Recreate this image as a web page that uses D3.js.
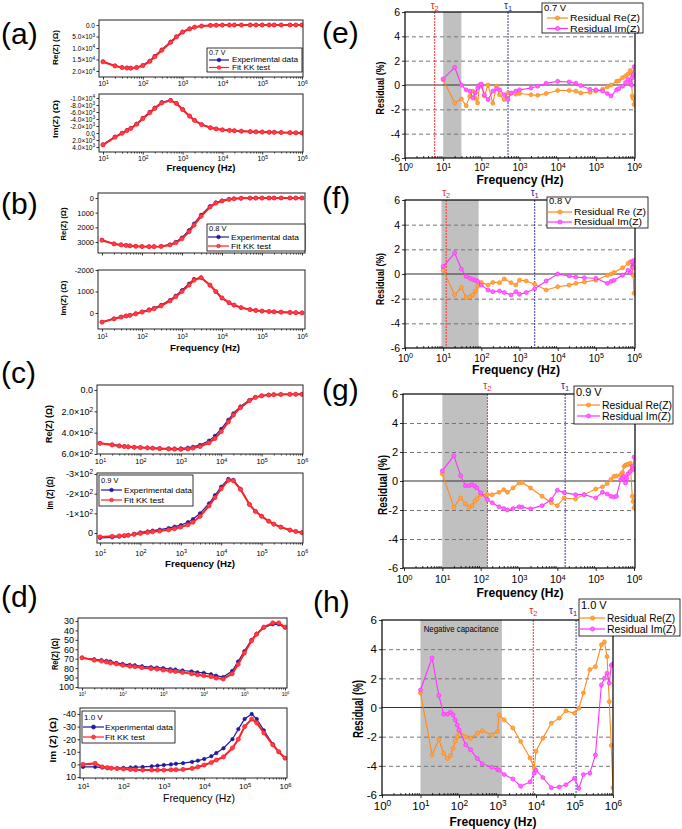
<!DOCTYPE html>
<html><head><meta charset="utf-8">
<script src="https://cdn.jsdelivr.net/npm/d3@7"></script>
<style>body{margin:0;background:#fff}svg{display:block;font-family:"Liberation Sans",Arial,sans-serif}</style>
</head><body>
<script>
// ---------- DATA ----------
const freqLeft = [10,20,30,40,50,70,100,150,200,300,500,700,1e3,1.5e3,2e3,3e3,5e3,7e3,1e4,1.5e4,2e4,3e4,5e4,7e4,1e5,1.5e5,2e5,3e5,5e5,7e5,1e6];
const aReExp = [15900,17700,18400,18600,18700,18400,17500,15600,13500,10700,7300,5000,2950,1600,900,420,160,80,45,28,18,14,10,7,5,4,4,3,2,2,2];
const aReFit = [16000,17800,18500,18700,18800,18500,17700,15800,13800,11000,7600,5200,3100,1700,950,450,170,90,50,30,20,15,10,8,5,5,4,3,3,2,2];
const aImExp = [3300,1100,0,-800,-1400,-2600,-4300,-6000,-7200,-8800,-9400,-8500,-6800,-4900,-3650,-2450,-1520,-1160,-900,-750,-650,-520,-400,-330,-280,-230,-200,-150,-100,-60,-20];
const aImFit = [3400,1200,100,-700,-1300,-2500,-4100,-5800,-7000,-8600,-9300,-8400,-6700,-4800,-3600,-2400,-1500,-1150,-900,-750,-650,-520,-400,-330,-280,-230,-200,-150,-100,-60,-20];
const bReExp = [2860,3120,3190,3230,3260,3290,3300,3310,3310,3290,3180,3000,2700,2200,1750,1150,560,310,180,80,45,18,7,3,2,1,0,0,0,0,0];
const bReFit = [2880,3130,3200,3230,3260,3290,3310,3320,3320,3300,3200,3050,2780,2300,1850,1250,620,350,200,90,50,20,8,4,2,1,0,0,0,0,0];
const bImExp = [420,265,185,135,100,25,-60,-160,-230,-370,-600,-800,-1060,-1360,-1580,-1650,-1290,-990,-690,-475,-365,-248,-158,-118,-88,-68,-54,-40,-25,-15,-5];
const bImFit = [425,270,190,140,110,40,-40,-130,-200,-330,-560,-760,-1000,-1300,-1530,-1640,-1300,-1000,-700,-480,-370,-250,-160,-120,-90,-70,-55,-40,-25,-15,-5];
const cReExp = [498,512,522,528,532,536,538,541,543,546,548,549,548,542,533,515,475,430,365,280,220,155,95,67,53,46,43,41,40,40,40];
const cReFit = [500,515,525,530,533,537,540,543,546,550,553,555,556,552,545,530,495,455,390,300,235,165,100,70,55,47,44,42,41,40,40];
const cImExp = [25,22,18,15,10,4,-3,-8,-12,-17,-25,-32,-40,-55,-70,-100,-150,-192,-235,-275,-270,-224,-146,-111,-86,-60,-45,-30,-15,-8,-2];
const cImFit = [20,17,15,13,12,7,2,-3,-6,-10,-16,-22,-30,-42,-55,-85,-138,-180,-225,-268,-266,-222,-145,-110,-85,-60,-45,-30,-15,-8,-2];
const dReExp = [69,70.6,71.5,72.3,73,74.5,75.5,76.5,77,78,79,79.5,80,81,81.5,82.5,83.5,84.5,85,86.5,88,89.5,83,73,62,50,43.5,37,33.5,33.5,37];
const dReFit = [69,71.5,72.5,73.5,74.5,75.5,77,78,78.5,79.5,80.5,81,82,83,83.5,84.5,86,87,88,89,90.5,91.5,86,76,64,51,44,36.5,32,32,36.5];
const dImExp = [2,2,2.5,3,3,3,2.7,2.5,2.2,2,1.5,1,0.5,0,-0.5,-1,-2,-3,-4.3,-6.5,-9,-12.8,-20,-28,-36,-40,-36,-27,-16,-10,-5];
const dImFit = [0,-0.8,2,2.5,3,3.3,3.7,4,4.2,4.5,4.5,4.5,4.5,4.3,4.2,4,3.2,2,0.5,-1.5,-3.5,-6,-13,-20,-30,-36,-33,-25,-15.5,-10,-5];

const freqE = [10,20,30,40,50,60,70,80,90,100,120,150,200,250,300,400,500,600,800,1e3,2e3,3e3,5e3,1e4,2e4,3e4,4e4,7e4,1e5,1.5e5,2e5,2.5e5,3.5e5,4e5,5e5,6e5,7e5,8e5,8.5e5,9e5,9.5e5,1e6];
const eRe = [0.44,-1.47,-1.15,-1.7,-0.93,-0.5,-1.1,-1.47,-0.05,-0.1,-0.9,0,-1.5,-0.1,-0.8,-1.2,-0.65,-0.7,-0.75,-0.7,-0.8,-0.85,-0.7,-0.45,-0.45,-0.5,-0.65,-0.6,-0.5,-0.35,-0.15,0,0.3,0.35,0.6,0.75,0.9,1.2,1.0,-0.9,-1.1,-1.6];
const eIm = [0.5,1.45,0,-0.4,-0.5,-1.05,-0.65,-0.25,0,0.08,-0.8,-1.2,-0.5,-0.3,-0.4,-0.8,-1.2,-0.65,-0.5,-0.4,-0.25,-0.1,0.15,0.3,0.25,0.15,-0.05,-0.35,-0.4,-0.5,-0.7,-0.9,-0.4,-0.3,-0.1,0.2,0.45,0.2,0,0.6,0.85,1.5];
const freqF = [10,20,30,40,50,60,70,80,100,150,200,300,400,600,800,1000,1500,2500,5000,1e4,2e4,3e4,5e4,1e5,2e5,2.5e5,3e5,5e5,7e5,8e5,9e5,9.5e5,1e6];
const fRe = [0.32,-1.7,-1.1,-1.9,-1.85,-1.7,-1.4,-1.0,-0.68,-0.9,-0.68,-0.7,-0.4,-0.7,-0.9,-0.5,-0.57,-0.84,-1.3,-1.03,-0.9,-0.76,-0.65,-0.5,-0.1,0,0.13,0.5,0.86,1.0,0.6,-0.1,-1.57];
const fIm = [0.6,1.7,0.4,-0.2,-0.35,-0.45,-0.5,-0.6,-0.9,-1.3,-1.43,-1.38,-1.5,-1.7,-1.43,-1.65,-1.5,-1.2,-0.57,0,-0.16,-0.25,-0.3,-0.35,-0.76,-0.6,-0.5,-0.1,0.3,0.1,1.0,0.5,1.1];
const freqG = [10,20,30,40,50,60,70,80,100,150,200,300,400,500,700,1000,1200,2000,4000,7000,1e4,1.5e4,3e4,5e4,1e5,1.5e5,2e5,2.5e5,3e5,3.5e5,4.5e5,5e5,5.5e5,6e5,6.5e5,7e5,8e5,9e5,9.5e5,1e6];
const gRe = [0.5,-1.8,-1.17,-1.58,-1.8,-1.7,-1.4,-1.24,-0.94,-0.94,-0.94,-0.78,-0.6,-0.78,-0.48,-0.14,-0.1,-0.48,-1.05,-1.5,-1.7,-1.17,-1.24,-0.94,-0.55,-0.4,-0.18,0.1,0.32,0.35,0.43,0.6,1.0,1.1,1.12,1.15,1.23,-1.05,-1.4,-1.85];
const gIm = [0.7,1.74,0.37,-0.32,-0.32,-0.25,-0.35,-0.48,-0.82,-1.28,-1.5,-1.78,-1.9,-2.0,-1.9,-1.78,-1.8,-1.92,-1.7,-1.28,-0.64,-0.8,-0.94,-0.94,-1.17,-0.78,-0.9,-1.05,-1.1,-1.05,0.1,0.2,0.32,-0.14,0.2,0.5,0.66,1.0,0.8,1.65];
const freqH = [10,20,30,40,50,60,70,80,90,100,150,200,300,400,700,1000,1100,1500,2500,4000,7000,9000,1e4,1.5e4,2.5e4,4e4,6e4,1e5,1.3e5,1.7e5,2.5e5,3.5e5,5e5,6e5,7e5,8e5,9e5,1e6];
const hRe = [1.0,-3.25,-2.2,-3.15,-3.5,-3.3,-2.8,-2.3,-2.0,-1.6,-2.0,-2.1,-1.76,-1.6,-1.87,-1.65,-0.5,-0.85,-1.4,-2.33,-3.47,-4.16,-3.0,-2.1,-1.07,-0.73,-0.23,-0.4,-0.05,1.0,2.6,2.8,4.3,4.5,3.5,0.4,-2.6,-5.5];
const hIm = [1.2,3.4,0.82,-0.46,-0.46,-0.32,-0.5,-0.85,-1.2,-1.53,-2.56,-2.9,-3.5,-3.85,-4.1,-4.25,-4.3,-4.6,-4.9,-5.4,-5.1,-4.5,-4.3,-4.8,-5.5,-5.45,-5.3,-4.85,-5.55,-4.6,-4.5,-3.25,1.55,2.0,2.35,1.67,2.9,3.0];

// bands (Hz), tau markers (Hz)
const bandE=[10,30], bandF=[9,85], bandG=[10,150], bandH=[10,1300];
const tauE=[500,6], tauF=[2500,12], tauG=[16000,150], tauH=[110000,8500]; // [tau1, tau2]

// tick values & labels
const decLeft=[10,100,1e3,1e4,1e5,1e6];
const decLeftLabels=["10^1","10^2","10^3","10^4","10^5","10^6"];
const decRight=[1,10,100,1e3,1e4,1e5,1e6];
const decRightLabels=["10^0","10^1","10^2","10^3","10^4","10^5","10^6"];
const aReTicks=[0,5000,10000,15000,20000];
const aReLabels=["0.0","5.0×10^3","1.0×10^4","1.5×10^4","2.0×10^4"];
const aImTicks=[-10000,-8000,-6000,-4000,-2000,0,2000,4000];
const aImLabels=["-1.0×10^4","-8.0×10^3","-6.0×10^3","-4.0×10^3","-2.0×10^3","0.0","2.0×10^3","4.0×10^3"];
const bReTicks=[0,1000,2000,3000], bReLabels=["0","1000","2000","3000"];
const bImTicks=[-2000,-1000,0], bImLabels=["-2000","1000","0"];
const cReTicks=[0,200,400,600], cReLabels=["0.0","2.0×10^2","4.0×10^2","6.0×10^2"];
const cImTicks=[-300,-200,-100,0], cImLabels=["-3×10^2","-2×10^2","-1×10^2","0"];
const dReTicks=[30,40,50,60,70,80,90,100], dReLabels=["30","40","50","60","70","80","90","100"];
const dImTicks=[-40,-30,-20,-10,0,10], dImLabels=["-40","-30","-20","-10","0","10"];
const resTicks=[-6,-4,-2,0,2,4,6], resLabels=["-6","-4","-2","0","2","4","6"];

// ---------- DRAWING ----------
const svg=d3.select("body").append("svg").attr("width",682).attr("height",829);
svg.append("rect").attr("width",682).attr("height",829).attr("fill","#fff");
const BLUE="#1c1c9c", RED="#ff2020", ORANGE="#ff8a1c", MAGENTA="#ff30ff";

function rich(sel,str){
  sel.text(null);
  const p=str.split("^");
  sel.append("tspan").text(p[0]);
  if(p.length>1) sel.append("tspan").attr("dy","-0.45em").attr("font-size","0.72em").text(p[1]);
}
function minorTicks(lo,hi){const m=[];for(let d=lo;d<hi;d*=10)for(let k=2;k<=9;k++)m.push(d*k);return m;}
let clipN=0;
function addClip(b){const id="cl"+(clipN++);svg.append("clipPath").attr("id",id).append("rect").attr("x",b[0]).attr("y",b[2]).attr("width",b[1]-b[0]).attr("height",b[3]-b[2]);return `url(#${id})`;}
function cleanAxis(a,fs){a.attr("font-size",fs).attr("font-family",null);a.select(".domain").remove();a.selectAll("line").attr("stroke","#000").attr("stroke-width",0.8);a.selectAll("text").attr("fill","#000");}
function drawSeries(g,x,y,freq,vals,st,clip){
  const pts=d3.zip(freq,vals);
  const sg=g.append("g").attr("clip-path",clip);
  sg.append("path").datum(pts).attr("fill","none").attr("stroke",st.color).attr("stroke-width",st.lw)
    .attr("d",d3.line().x(d=>x(d[0])).y(d=>y(d[1])));
  sg.selectAll(null).data(pts).join("circle").attr("cx",d=>x(d[0])).attr("cy",d=>y(d[1]))
    .attr("r",st.r).attr("fill",st.fill).attr("stroke",st.color).attr("stroke-width",0.7);
}
function rotLabel(x,y,txt,fs,len,bold){
  svg.append("text").attr("transform",`translate(${x},${y}) rotate(-90)`).attr("text-anchor","middle").attr("dy","0.35em")
    .attr("font-size",fs).attr("font-weight",bold?"bold":"normal").attr("textLength",len).attr("lengthAdjust","spacingAndGlyphs").text(txt);
}
function hLabel(x,y,txt,fs,len,bold){
  svg.append("text").attr("x",x).attr("y",y).attr("text-anchor","middle").attr("font-size",fs)
    .attr("font-weight",bold?"bold":"normal").attr("textLength",len).attr("lengthAdjust","spacingAndGlyphs").text(txt);
}
function legend(o){
  const g=svg.append("g");
  g.append("rect").attr("x",o.box[0]).attr("y",o.box[2]).attr("width",o.box[1]-o.box[0]).attr("height",o.box[3]-o.box[2])
    .attr("fill","#fff").attr("stroke","#000").attr("stroke-width",0.8);
  g.append("text").attr("x",o.box[0]+2).attr("y",o.rows[0]).attr("dy","0.35em").attr("font-size",o.fs).text(o.title);
  o.items.forEach((it,i)=>{
    const yy=o.rows[i+1];
    g.append("line").attr("x1",o.line[0]).attr("x2",o.line[1]).attr("y1",yy).attr("y2",yy).attr("stroke",it.color).attr("stroke-width",1.2);
    g.append("circle").attr("cx",(o.line[0]+o.line[1])/2).attr("cy",yy).attr("r",o.r||2).attr("fill",it.fill).attr("stroke",it.color).attr("stroke-width",0.7);
    const t=g.append("text").attr("x",o.textX).attr("y",yy).attr("dy","0.35em").attr("font-size",o.fs).text(it.label);
    if(it.len) t.attr("textLength",it.len).attr("lengthAdjust","spacingAndGlyphs");
  });
}
function panelLetter(x,y,t){svg.append("text").attr("x",x).attr("y",y).attr("font-size",30).text(t);}

const expStyle={color:BLUE,fill:BLUE,lw:1.2,r:1.7};
const fitStyle={color:RED,fill:"#ff3c50",lw:2,r:2.1};

function leftSub(o){
  const g=svg.append("g");
  const [bx0,bx1,by0,by1]=o.box;
  const x=d3.scaleLog().domain([10,1e6]).range(o.xr);
  const y=d3.scaleLinear().domain(o.yd).range(o.yr);
  const clip=addClip(o.box);
  const xa=g.append("g").attr("transform",`translate(0,${by1})`)
    .call(d3.axisBottom(x).tickValues(decLeft).tickSize(2.5).tickPadding(o.xpad||2).tickFormat((d,i)=>decLeftLabels[i]));
  cleanAxis(xa,o.xfs||7);
  if(o.xfs) xa.selectAll(".tick text").each(function(d,i){rich(d3.select(this),decLeftLabels[i]);});
  else xa.selectAll(".tick text").remove();
  const xm=g.append("g").attr("transform",`translate(0,${by1})`)
    .call(d3.axisBottom(x).tickValues(minorTicks(10,1e6)).tickSize(1.5).tickFormat(""));
  cleanAxis(xm,7);
  const ya=g.append("g").attr("transform",`translate(${bx0},0)`)
    .call(d3.axisLeft(y).tickValues(o.yt).tickSize(2.5).tickPadding(1.5).tickFormat((d,i)=>o.yl[i]));
  cleanAxis(ya,o.yfs);
  ya.selectAll(".tick text").each(function(d,i){rich(d3.select(this),o.yl[i]);});
  drawSeries(g,x,y,freqLeft,o.exp,expStyle,clip);
  drawSeries(g,x,y,freqLeft,o.fit,fitStyle,clip);
  g.append("rect").attr("x",bx0).attr("y",by0).attr("width",bx1-bx0).attr("height",by1-by0).attr("fill","none").attr("stroke","#222").attr("stroke-width",1);
  rotLabel(o.yLab[0],o.yLab[1],o.yText,o.yLab[3],o.yLab[2],true);
}

// (a)
leftSub({box:[99,303,20,77],xr:[103,302],yd:[0,20000],yr:[25,71],yt:aReTicks,yl:aReLabels,yfs:6.5,xfs:7,xpad:1.5,exp:aReExp,fit:aReFit,yText:"Re(Z) (Ω)",yLab:[55,47.5,35,8]});
leftSub({box:[99,303,94,152],xr:[103,302],yd:[-10000,4000],yr:[98,147],yt:aImTicks,yl:aImLabels,yfs:6.5,xfs:7,xpad:2,exp:aImExp,fit:aImFit,yText:"Im(Z) (Ω)",yLab:[55,119,38,8]});
hLabel(201,171,"Frequency (Hz)",9.5,69,true);
legend({box:[207,302,48,72],title:"0.7 V",rows:[52.5,60,67.5],line:[209,229],textX:232,fs:7,r:1.8,
  items:[{label:"Experimental data",color:BLUE,fill:BLUE,len:66},{label:"Fit KK test",color:RED,fill:"#ff3c50",len:38}]});
panelLetter(1,44,"(a)");

// (b)
leftSub({box:[98,305,193,253],xr:[102,302],yd:[0,3000],yr:[198,242],yt:bReTicks,yl:bReLabels,yfs:7.5,xfs:0,exp:bReExp,fit:bReFit,yText:"Re(Z) (Ω)",yLab:[63,224,33,8]});
leftSub({box:[98,305,270,329],xr:[102,302],yd:[-2000,0],yr:[270,313],yt:bImTicks,yl:bImLabels,yfs:7.5,xfs:7,xpad:3,exp:bImExp,fit:bImFit,yText:"Im(Z) (Ω)",yLab:[63,298,35,8]});
hLabel(205,351,"Frequency (Hz)",9.5,70,true);
legend({box:[207,305,224,251],title:"0.8 V",rows:[228.5,237,246],line:[208,229],textX:231,fs:7.5,r:1.8,
  items:[{label:"Experimental data",color:BLUE,fill:BLUE,len:68},{label:"Fit KK test",color:RED,fill:"#ff3c50",len:40}]});
panelLetter(1,214,"(b)");

// (c)
leftSub({box:[97,303,385,454],xr:[100,302],yd:[0,600],yr:[390,454],yt:cReTicks,yl:cReLabels,yfs:9,xfs:7.5,xpad:2.5,exp:cReExp,fit:cReFit,yText:"Re(Z) (Ω)",yLab:[49,424,38,9]});
leftSub({box:[97,303,473,543],xr:[100,302],yd:[-300,0],yr:[474,533],yt:cImTicks,yl:cImLabels,yfs:9,xfs:7.5,xpad:5,exp:cImExp,fit:cImFit,yText:"Im (Z) (Ω)",yLab:[50,493,33,9]});
hLabel(200,567,"Frequency (Hz)",9.5,70,true);
legend({box:[99,193,475,506],title:"0.9 V",rows:[480,490,500],line:[101,122],textX:124,fs:7.5,r:1.8,
  items:[{label:"Experimental data",color:BLUE,fill:BLUE,len:68},{label:"Fit KK test",color:RED,fill:"#ff3c50",len:40}]});
panelLetter(1,383,"(c)");

// (d)
leftSub({box:[78,287,618,688],xr:[82,285],yd:[30,100],yr:[621,687],yt:dReTicks,yl:dReLabels,yfs:9,xfs:5,xpad:2,exp:dReExp,fit:dReFit,yText:"Re(Z) (Ω)",yLab:[55,654,32,9]});
leftSub({box:[80,287,708,778],xr:[83,285],yd:[-40,10],yr:[714,777],yt:dImTicks,yl:dImLabels,yfs:9,xfs:8,xpad:3,exp:dImExp,fit:dImFit,yText:"Im (Z) (Ω)",yLab:[53,740,45,9]});
hLabel(199,802,"Frequency (Hz)",10.5,72,false);
legend({box:[82,175,711,743],title:"1.0 V",rows:[717,727,737],line:[83,104],textX:105,fs:8,r:2,
  items:[{label:"Experimental data",color:BLUE,fill:BLUE,len:68},{label:"Fit KK test",color:RED,fill:"#ff3c50",len:40}]});
panelLetter(1,607,"(d)");

// residual panels
function resPanel(o){
  const g=svg.append("g");
  const [bx0,bx1,by0,by1]=o.box;
  const x=d3.scaleLog().domain([1,1e6]).range(o.xr);
  const y=d3.scaleLinear().domain([-6,6]).range([by1,by0]);
  const clip=addClip(o.box);
  g.append("rect").attr("x",x(o.band[0])).attr("y",by0).attr("width",x(o.band[1])-x(o.band[0])).attr("height",by1-by0).attr("fill","#c0c0c0");
  const grid=g.append("g").attr("transform",`translate(${bx0},0)`)
    .call(d3.axisLeft(y).tickValues([-4,-2,2,4]).tickSize(-(bx1-bx0)).tickFormat(""));
  grid.select(".domain").remove();
  grid.selectAll("line").attr("stroke","#777").attr("stroke-dasharray","4,3").attr("stroke-width",1);
  g.append("line").attr("x1",bx0).attr("x2",bx1).attr("y1",y(0)).attr("y2",y(0)).attr("stroke","#333").attr("stroke-width",1.1);
  // tau lines
  g.append("line").attr("x1",x(o.tau[1])).attr("x2",x(o.tau[1])).attr("y1",by0).attr("y2",by1).attr("stroke","#ff3030").attr("stroke-width",1).attr("stroke-dasharray","2,1");
  g.append("line").attr("x1",x(o.tau[0])).attr("x2",x(o.tau[0])).attr("y1",by0).attr("y2",by1).attr("stroke","#3a3aa8").attr("stroke-width",1).attr("stroke-dasharray","2,1");
  const tdx=o.tauDx||[0,0];
  [[o.tau[1],"2","#ee2a2a",tdx[1]],[o.tau[0],"1","#2a2a9a",tdx[0]]].forEach(([f,s,c,dx])=>{
    const t=g.append("text").attr("x",x(f)+dx).attr("y",o.tauY).attr("text-anchor","middle").attr("font-size",10).attr("fill",c);
    t.append("tspan").text("τ");
    t.append("tspan").attr("dy","0.3em").attr("font-size","0.75em").text(s);
  });
  if(o.note) g.append("text").attr("x",(x(o.band[0])+x(o.band[1]))/2).attr("y",by0+12).attr("text-anchor","middle").attr("font-size",8.5)
     .attr("textLength",o.note[1]).attr("lengthAdjust","spacingAndGlyphs").text(o.note[0]);
  // axes
  const xa=g.append("g").attr("transform",`translate(0,${by1})`)
    .call(d3.axisBottom(x).tickValues(decRight).tickSize(3).tickPadding(o.xpad).tickFormat((d,i)=>decRightLabels[i]));
  cleanAxis(xa,o.xfs);
  xa.selectAll(".tick text").each(function(d,i){rich(d3.select(this),decRightLabels[i]);});
  const xm=g.append("g").attr("transform",`translate(0,${by1})`)
    .call(d3.axisBottom(x).tickValues(minorTicks(1,1e6)).tickSize(-2).tickFormat(""));
  cleanAxis(xm,8);
  const ya=g.append("g").attr("transform",`translate(${bx0},0)`)
    .call(d3.axisLeft(y).tickValues(resTicks).tickSize(3).tickPadding(2).tickFormat((d,i)=>resLabels[i]));
  cleanAxis(ya,o.yfs);
  drawSeries(g,x,y,o.freq,o.re,{color:ORANGE,fill:"#ffa545",lw:1.1,r:2},clip);
  drawSeries(g,x,y,o.freq,o.im,{color:MAGENTA,fill:"#ff66ff",lw:1.1,r:2},clip);
  g.append("rect").attr("x",bx0).attr("y",by0).attr("width",bx1-bx0).attr("height",by1-by0).attr("fill","none").attr("stroke","#000").attr("stroke-width",1.2);
  rotLabel(o.yLab[0],o.yLab[1],"Residual (%)",o.yLab[3],o.yLab[2],true);
  hLabel(o.fLab[0],o.fLab[1],"Frequency (Hz)",o.fLab[3],o.fLab[2],true);
  legend({box:o.leg.box,title:o.leg.title,rows:o.leg.rows,line:o.leg.line,textX:o.leg.textX,fs:o.leg.fs,r:2.1,
    items:[{label:o.leg.reLabel,color:ORANGE,fill:"#ffa545",len:o.leg.lens[0]},{label:"Residual Im(Z)",color:MAGENTA,fill:"#ff66ff",len:o.leg.lens[1]}]});
}

resPanel({box:[405,635,12,158],xr:[405,634],band:bandE,tau:tauE,tauY:9,xfs:10,xpad:3,yfs:10.5,freq:freqE,re:eRe,im:eIm,
  yLab:[380,88,53,11],fLab:[520,184,87,12],
  leg:{box:[542,643,3,33],title:"0.7 V",rows:[7.5,18,28.5],line:[547,568],textX:570,fs:9.5,reLabel:"Residual Re(Z)",lens:[70,70]}});
panelLetter(322,43,"(e)");

resPanel({box:[405,635,200,348],xr:[405,634],band:bandF,tau:tauF,tauY:196,xfs:10,xpad:3.5,yfs:10.5,freq:freqF,re:fRe,im:fIm,
  yLab:[380,279,52,11],fLab:[516,374,88,12],
  leg:{box:[547,648,197,228],title:"0.8 V",rows:[201,212,222],line:[548,572],textX:574,fs:9.5,reLabel:"Residual Re (Z)",lens:[72,68]}});
panelLetter(322,208,"(f)");

resPanel({box:[403,635,394,568],xr:[404,634],band:bandG,tau:tauG,tauY:389,xfs:10.5,xpad:5,yfs:11,freq:freqG,re:gRe,im:gIm,
  yLab:[382,485,60,13],fLab:[520,597,87,12],
  leg:{box:[574,673,386,424],title:"0.9 V",rows:[392,405,416],line:[577,600],textX:602,fs:11,reLabel:"Residual Re(Z)",lens:[70,69]}});
panelLetter(322,400,"(g)");

resPanel({box:[382,613,620,795],xr:[382,613],band:bandH,tau:tauH,tauY:614,tauDx:[-3,0],xfs:11.5,xpad:4,yfs:11.5,freq:freqH,re:hRe,im:hIm,
  note:["Negative capacitance",75],
  yLab:[358,709,58,14],fLab:[493,826,87,13],
  leg:{box:[579,680,599,636],title:"1.0 V",rows:[605,618,629],line:[580,605],textX:607,fs:11,reLabel:"Residual Re(Z)",lens:[68,69]}});
panelLetter(313,612,"(h)");
</script>
</body></html>
